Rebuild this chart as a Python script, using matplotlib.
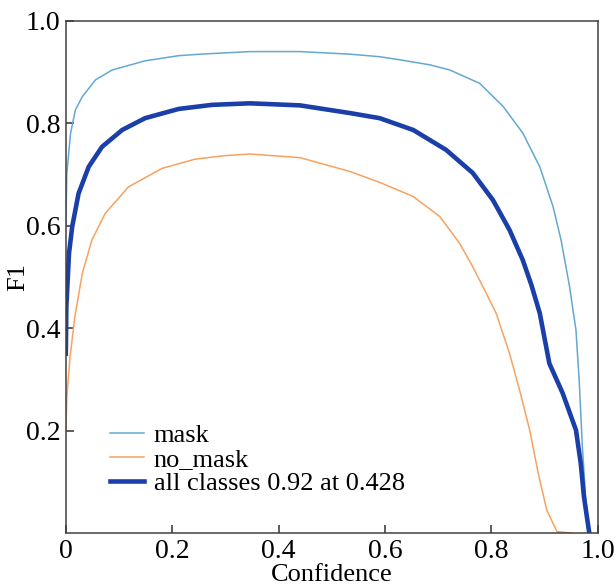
import matplotlib
matplotlib.use("Agg")
import matplotlib.pyplot as plt

plt.rcParams["font.family"] = ["Liberation Serif", "DejaVu Serif"]

# F1 curves
mask_conf = [0.0, 0.002, 0.009, 0.018, 0.031, 0.056, 0.087, 0.149, 0.212, 0.253, 0.346,
             0.44, 0.534, 0.590, 0.628, 0.685, 0.722, 0.778, 0.822, 0.859, 0.891,
             0.916, 0.931, 0.947, 0.959, 0.965, 0.971, 0.977, 0.984]
mask_f1 = [0.60, 0.703, 0.781, 0.826, 0.852, 0.885, 0.904, 0.922, 0.932, 0.935, 0.940,
           0.940, 0.935, 0.930, 0.924, 0.914, 0.904, 0.878, 0.833, 0.781, 0.715,
           0.637, 0.572, 0.481, 0.396, 0.299, 0.169, 0.071, 0.0]

nomask_conf = [0.0, 0.002, 0.008, 0.017, 0.031, 0.049, 0.074, 0.118, 0.181, 0.243, 0.30,
               0.346, 0.44, 0.534, 0.594, 0.653, 0.703, 0.740, 0.765, 0.787, 0.809,
               0.834, 0.853, 0.872, 0.888, 0.904, 0.923, 0.95]
nomask_f1 = [0.20, 0.266, 0.344, 0.422, 0.507, 0.572, 0.624, 0.676, 0.712, 0.730, 0.737,
             0.740, 0.733, 0.706, 0.683, 0.657, 0.618, 0.566, 0.520, 0.475, 0.429,
             0.351, 0.279, 0.201, 0.117, 0.045, 0.003, 0.0]

all_conf = [0.0, 0.001, 0.006, 0.012, 0.024, 0.043, 0.068, 0.106, 0.149, 0.212, 0.275,
            0.346, 0.44, 0.534, 0.590, 0.653, 0.715, 0.765, 0.803, 0.834, 0.859,
            0.875, 0.891, 0.909, 0.934, 0.959, 0.968, 0.974, 0.984]
all_f1 = [0.35, 0.442, 0.546, 0.598, 0.663, 0.715, 0.754, 0.787, 0.810, 0.828, 0.836,
          0.839, 0.835, 0.820, 0.810, 0.787, 0.748, 0.703, 0.650, 0.592, 0.533,
          0.485, 0.429, 0.331, 0.273, 0.201, 0.136, 0.071, 0.0]

x_ticks = [0, 0.2, 0.4, 0.6, 0.8, 1.0]
x_ticklabels = ["0", "0.2", "0.4", "0.6", "0.8", "1.0"]
y_ticks = [0.2, 0.4, 0.6, 0.8, 1.0]
y_ticklabels = ["0.2", "0.4", "0.6", "0.8", "1.0"]

fig = plt.figure(figsize=(6.15, 5.86), dpi=100)
ax = fig.add_axes([0.107, 0.0904, 0.865, 0.874])

ax.plot(mask_conf, mask_f1, color="#64a8d0", lw=1.1, label="mask")
ax.plot(nomask_conf, nomask_f1, color="#f7a25f", lw=1.1, label="no_mask")
ax.plot(all_conf, all_f1, color="#1b3fa9", lw=3.3, label="all classes 0.92 at 0.428")

ax.set_xlim(0, 1)
ax.set_ylim(0, 1)
ax.set_xticks(x_ticks)
ax.set_xticklabels(x_ticklabels)
ax.set_yticks(y_ticks)
ax.set_yticklabels(y_ticklabels)
ax.tick_params(direction="in", length=6, width=1.1, labelsize=20, pad=4, color="#303030")

for spine in ax.spines.values():
    spine.set_color("#404040")
    spine.set_linewidth(1.1)

ax.set_xlabel("Confidence", fontsize=19, labelpad=0)
ax.set_ylabel("F1", fontsize=19)
ax.yaxis.set_label_coords(-0.068, 0.5)

ax.legend(loc="center left", bbox_to_anchor=(0.083, 0.144), frameon=False,
          fontsize=19, handlelength=1.3, handletextpad=0.35, labelspacing=0.03,
          borderpad=0, borderaxespad=0)

fig.savefig("out.png", dpi=100)
